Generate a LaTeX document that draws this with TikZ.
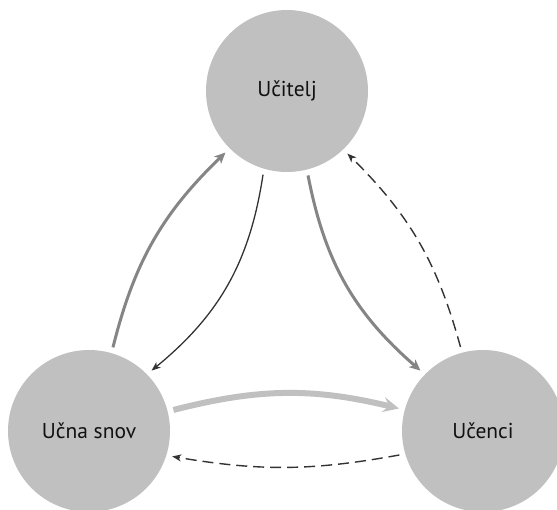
\documentclass[tikz,border=0pt]{standalone}
\usepackage{fontspec}
\setmainfont{PT Sans}
\usetikzlibrary{arrows.meta}
\definecolor{circfill}{HTML}{C0C0C0}
\definecolor{midgray}{HTML}{858585}
\definecolor{lightarr}{HTML}{C0C0C0}
\definecolor{darkarr}{HTML}{333333}
\definecolor{txt}{HTML}{111111}
\tikzset{
  actor/.style={circle, fill=circfill, draw=none, minimum size=162pt, inner sep=0pt, outer sep=6pt,
    font=\fontsize{21.5}{25}\selectfont, text=txt},
  thickarr/.style={draw=midgray, line width=3pt, -{Stealth[length=11pt, width=10pt, inset=3pt]}},
  thinarr/.style={draw=darkarr, line width=1.3pt, -{Stealth[length=9pt, width=7pt, inset=2.5pt]}},
  lightarrow/.style={draw=lightarr, line width=6pt, -{Stealth[length=16pt, width=15pt, inset=6pt]}},
  dasharr/.style={draw=darkarr, line width=1.4pt, dash pattern=on 11pt off 6pt, -{Stealth[length=9pt, width=7pt, inset=2.5pt]}}
}
\begin{document}
\begin{tikzpicture}[x=1pt,y=1pt]
  \useasboundingbox (0,0) rectangle (557,509);
  \node[actor] (T) at (287,418) {Učitelj};
  \node[actor] (L) at (89,78) {Učna snov};
  \node[actor] (R) at (483,78) {Učenci};
  \draw[thickarr] (L.74) to[bend left=16] (T.225);
  \draw[thinarr] (T.254) to[bend left=21] (L.44);
  \draw[thickarr] (T.284) to[bend right=19] (R.136);
  \draw[dasharr] (R.105) to[bend right=15] (T.314);
  \draw[lightarrow] (L.14) to[bend left=14] (R.165);
  \draw[dasharr] (R.196) to[bend left=10] (L.-17);
\end{tikzpicture}
\end{document}
